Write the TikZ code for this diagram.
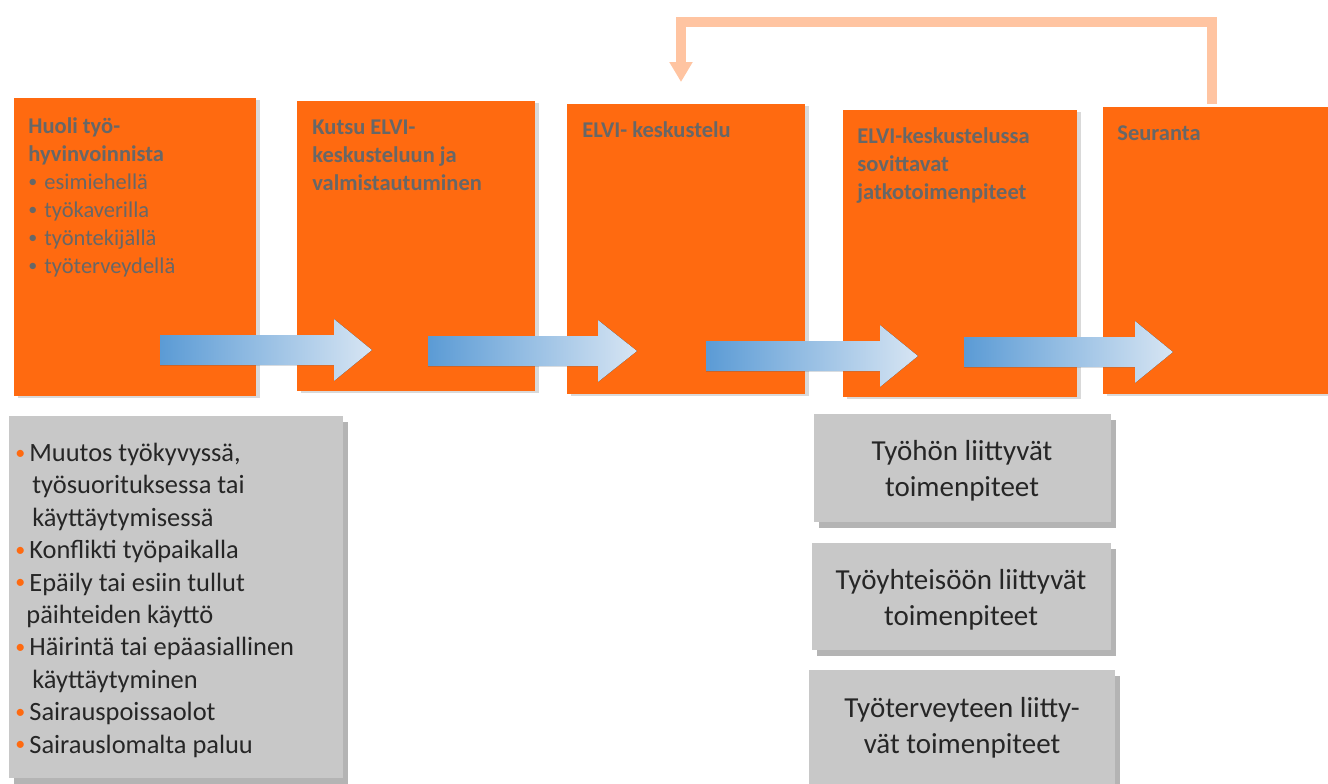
\documentclass[tikz,border=0pt]{standalone}
\usepackage{fontspec}
\setmainfont{Carlito}
\usetikzlibrary{shadows,arrows.meta}
\definecolor{orng}{HTML}{FF6A10}
\definecolor{ortxt}{HTML}{676767}
\definecolor{grayfill}{HTML}{C8C8C8}
\definecolor{grayshadow}{HTML}{B4B4B4}
\definecolor{graytxt}{HTML}{262626}
\definecolor{peach}{HTML}{FFC4A1}
\definecolor{blueL}{HTML}{5B9BD5}
\definecolor{blueR}{HTML}{D7E5F3}
\newcommand{\oblt}{\makebox[7pt][l]{\raisebox{1.2pt}{\textcolor{orng}{\fontsize{10pt}{10pt}\selectfont•}}}}
\newcommand{\gblt}{\makebox[8pt][l]{\raisebox{0.8pt}{\fontsize{9pt}{9pt}\selectfont•}}}
\begin{document}
\begin{tikzpicture}[x=0.5pt,y=-0.5pt,
  stepbox/.style={fill=orng, draw=none, anchor=north west, inner sep=0pt,
    drop shadow={shadow xshift=2pt, shadow yshift=-1pt, fill=black, opacity=0.15}},
  steptext/.style={anchor=base west, inner sep=0pt, align=left, text=ortxt,
    font=\fontsize{11.25pt}{14pt}\selectfont\bfseries},
  notebox/.style={fill=grayfill, draw=none, anchor=north west, inner sep=0pt,
    drop shadow={shadow xshift=2.5pt, shadow yshift=-3pt, fill=grayshadow, opacity=1}},
  leftnote/.style={anchor=base west, inner sep=0pt, align=left, text=graytxt,
    font=\fontsize{13.2pt}{16.2pt}\selectfont},
  rightnote/.style={anchor=base, inner sep=0pt, align=center, text=graytxt,
    font=\fontsize{14.5pt}{18pt}\selectfont},
  bluearrow/.style={left color=blueL, right color=blueR, draw=none},
  feedback/.style={draw=peach, line width=5pt, line join=miter,
    -{Triangle[width=11pt,length=10pt]}}
]
\useasboundingbox (0,0) rectangle (1328,783);

% orange step boxes
\node[stepbox, minimum width=121pt, minimum height=149pt] (b1) at (14,98) {};
\node[stepbox, minimum width=119pt, minimum height=145pt] (b2) at (297,101) {};
\node[stepbox, minimum width=119pt, minimum height=145pt] (b3) at (567,104) {};
\node[stepbox, minimum width=117pt, minimum height=143.5pt] (b4) at (843,110) {};
\node[stepbox, minimum width=113pt, minimum height=143.5pt] (b5) at (1103,107) {};

% step texts (anchor = baseline of last line)
\node[steptext] (t1) at (28,273) {Huoli työ-\\hyvinvoinnista\\{\mdseries\gblt esimiehellä}\\{\mdseries\gblt työkaverilla}\\{\mdseries\gblt työntekijällä}\\{\mdseries\gblt työterveydellä}};
\node[steptext] (t2) at (312,190) {Kutsu ELVI-\\keskusteluun ja\\valmistautuminen};
\node[steptext] (t3) at (582,137) {ELVI- keskustelu};
\node[steptext] (t4) at (857,199) {ELVI-keskustelussa\\sovittavat\\jatkotoimenpiteet};
\node[steptext] (t5) at (1117,140) {Seuranta};

% blue block arrows
\fill[bluearrow] (160,335) -- (334,335) -- (334,319) -- (372,350) -- (334,381) -- (334,365) -- (160,365) -- cycle;
\fill[bluearrow] (428,336) -- (598,336) -- (598,320) -- (637,351) -- (598,382) -- (598,366) -- (428,366) -- cycle;
\fill[bluearrow] (706,341) -- (880,341) -- (880,325) -- (918,356) -- (880,387) -- (880,371) -- (706,371) -- cycle;
\fill[bluearrow] (964,337) -- (1135,337) -- (1135,321) -- (1173,352) -- (1135,383) -- (1135,367) -- (964,367) -- cycle;

% feedback arrow
\coordinate (fbs) at (1212,104);
\coordinate (fbe) at (681,82);
\draw[feedback] (fbs) -- (1212,22) -- (681,22) -- (fbe);

% grey note boxes
\node[notebox, minimum width=167pt, minimum height=181pt] (n0) at (9,416) {};
\node[notebox, minimum width=148.5pt, minimum height=54pt] (n1) at (814,414) {};
\node[notebox, minimum width=149.5pt, minimum height=53.5pt] (n2) at (812,543) {};
\node[notebox, minimum width=153pt, minimum height=60pt] (n3) at (809,670) {};

\node[leftnote] (l0) at (15,753) {\oblt Muutos työkyvyssä,\\\hspace*{8.5pt}työsuorituksessa tai\\\hspace*{8.5pt}käyttäytymisessä\\\oblt Konflikti työpaikalla\\\oblt Epäily tai esiin tullut\\\hspace*{5.5pt}päihteiden käyttö\\\oblt Häirintä tai epäasiallinen\\\hspace*{8.5pt}käyttäytyminen\\\oblt Sairauspoissaolot\\\oblt Sairauslomalta paluu};

\node[rightnote] (r1) at (962,496) {Työhön liittyvät\\toimenpiteet};
\node[rightnote] (r2) at (961,625) {Työyhteisöön liittyvät\\toimenpiteet};
\node[rightnote] (r3) at (962,753) {Työterveyteen liitty-\\vät toimenpiteet};
\end{tikzpicture}
\end{document}
